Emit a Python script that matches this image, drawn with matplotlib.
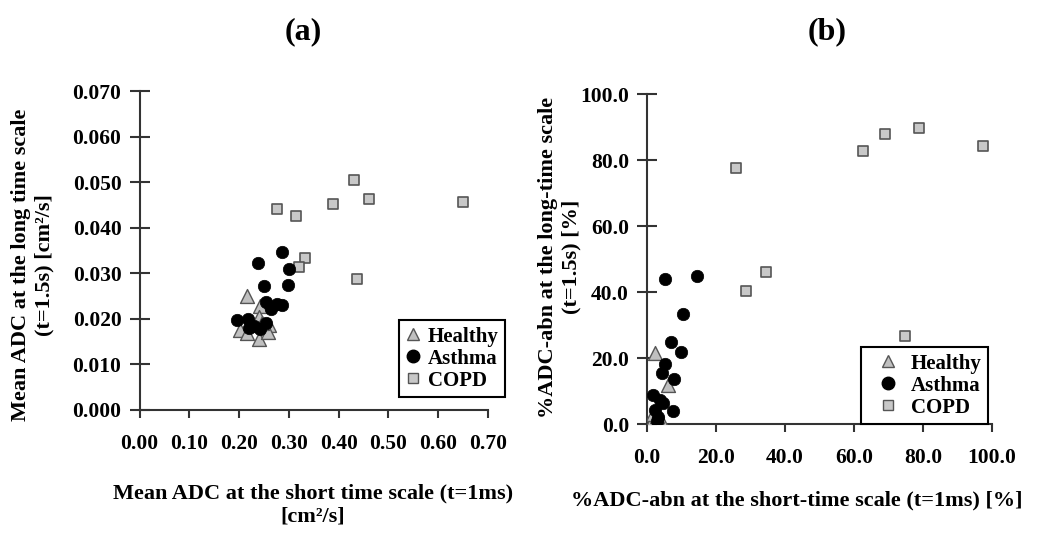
import numpy as np
import matplotlib.pyplot as plt
from matplotlib.lines import Line2D

plt.rcParams['font.family'] = ['Liberation Serif', 'DejaVu Serif']
plt.rcParams['font.weight'] = 'bold'

# panel (a): mean ADC, short (x) vs long (y) time scale [cm2/s]
healthy_a_x = [0.215, 0.242, 0.240, 0.261, 0.202, 0.215, 0.239, 0.259, 0.245]
healthy_a_y = [0.0250, 0.0229, 0.0205, 0.0186, 0.0175, 0.0168, 0.0156, 0.0172, 0.0190]
asthma_a_x = [0.238, 0.286, 0.301, 0.250, 0.298, 0.254, 0.265, 0.276, 0.286,
              0.195, 0.217, 0.220, 0.241, 0.253, 0.230]
asthma_a_y = [0.0323, 0.0346, 0.0309, 0.0273, 0.0274, 0.0238, 0.0221, 0.0232, 0.0231,
              0.0197, 0.0199, 0.0179, 0.0178, 0.0190, 0.0185]
copd_a_x = [0.276, 0.314, 0.389, 0.430, 0.461, 0.332, 0.320, 0.436, 0.650]
copd_a_y = [0.0440, 0.0425, 0.0451, 0.0504, 0.0463, 0.0333, 0.0314, 0.0287, 0.0456]

# panel (b): %ADC-abn, short (x) vs long (y) time scale [%]
healthy_b_x = [2.3, 6.0, 2.2, 1.5, 3.0, 4.0, 2.8, 3.5, 1.8]
healthy_b_y = [21.6, 11.8, 1.5, 0.8, 0.5, 1.2, 2.5, 0.4, 3.0]
asthma_b_x = [5.2, 14.6, 10.5, 6.9, 9.9, 5.2, 4.2, 7.8, 1.8, 3.8, 4.7, 7.6, 2.3, 3.3, 3.0]
asthma_b_y = [43.9, 44.8, 33.2, 24.9, 21.8, 18.1, 15.4, 13.6, 8.8, 7.3, 6.3, 3.9, 4.2, 2.2, 1.0]
copd_b_x = [25.8, 62.5, 69.0, 78.8, 97.3, 34.4, 28.7, 74.8, 3.5]
copd_b_y = [77.5, 82.7, 87.8, 89.7, 84.4, 46.2, 40.3, 26.7, 0.6]

fig = plt.figure(figsize=(10.5, 5.37), dpi=100)
axa = fig.add_axes([0.1329, 0.2365, 0.3319, 0.5940])
axb = fig.add_axes([0.6162, 0.2104, 0.3286, 0.6145])

tri_style = dict(marker='^', s=100, facecolor='#c0c0c0', edgecolor='#555555', linewidths=1.0, zorder=3)
dot_style = dict(marker='o', s=80, facecolor='black', edgecolor='black', linewidths=0.5, zorder=4)
sq_style = dict(marker='s', s=55, facecolor='#c8c8c8', edgecolor='#555555', linewidths=1.2, zorder=3)

for ax, hx, hy, ax_, ay_, cx, cy in [(axa, healthy_a_x, healthy_a_y, asthma_a_x, asthma_a_y, copd_a_x, copd_a_y),
                                      (axb, healthy_b_x, healthy_b_y, asthma_b_x, asthma_b_y, copd_b_x, copd_b_y)]:
    ax.scatter(cx, cy, **sq_style)
    ax.scatter(hx, hy, **tri_style)
    ax.scatter(ax_, ay_, **dot_style)
    for s in ['top', 'right']:
        ax.spines[s].set_visible(False)
    for s in ['left', 'bottom']:
        ax.spines[s].set_color('#333333')
        ax.spines[s].set_linewidth(1.5)
    ax.tick_params(axis='x', direction='out', length=6, width=1.5, color='#333333',
                   labelsize=15.5, pad=11)
    ax.tick_params(axis='y', direction='inout', length=14, width=1.5, color='#333333',
                   labelsize=15.5, pad=6)

axa.set_xlim(0, 0.70)
axa.set_ylim(0, 0.070)
axa.set_xticks(np.arange(0, 0.71, 0.1))
axa.set_yticks(np.arange(0, 0.071, 0.01))
axa.set_xticklabels(['%.2f' % v for v in np.arange(0, 0.71, 0.1)], fontweight='bold')
axa.set_yticklabels(['%.3f' % v for v in np.arange(0, 0.071, 0.01)], fontweight='bold')

axb.set_xlim(0, 100)
axb.set_ylim(0, 100)
axb.set_xticks(np.arange(0, 101, 20))
axb.set_yticks(np.arange(0, 101, 20))
axb.set_xticklabels(['%.1f' % v for v in np.arange(0, 101, 20)], fontweight='bold')
axb.set_yticklabels(['%.1f' % v for v in np.arange(0, 101, 20)], fontweight='bold')

handles = [Line2D([], [], linestyle='none', marker='^', markersize=9, markerfacecolor='#c0c0c0',
                  markeredgecolor='#555555', label='Healthy'),
           Line2D([], [], linestyle='none', marker='o', markersize=9, markerfacecolor='black',
                  markeredgecolor='black', label='Asthma'),
           Line2D([], [], linestyle='none', marker='s', markersize=7, markerfacecolor='#c8c8c8',
                  markeredgecolor='#555555', label='COPD')]

leg_kw = dict(handles=handles, fancybox=False, edgecolor='black', framealpha=1,
              prop={'weight': 'bold', 'size': 15}, labelspacing=0.1, borderaxespad=0, borderpad=0.3)
la = axa.legend(loc='lower right', bbox_to_anchor=(505 / 1050, 1 - 397 / 537),
                bbox_transform=fig.transFigure, handlelength=0.8, handletextpad=0.3, **leg_kw)
la.get_frame().set_linewidth(1.5)
lb = axb.legend(loc='lower right', bbox_to_anchor=(988 / 1050, 1 - 424 / 537),
                bbox_transform=fig.transFigure, handlelength=2.0, handletextpad=0.1, **leg_kw)
lb.get_frame().set_linewidth(1.5)

fig.text(303 / 1050, 1 - 32 / 537, '(a)', ha='center', va='center', fontsize=23, fontweight='bold')
fig.text(827 / 1050, 1 - 32 / 537, '(b)', ha='center', va='center', fontsize=23, fontweight='bold')

fig.text(313 / 1050, 1 - 505 / 537, 'Mean ADC at the short time scale (t=1ms)\n[cm\u00b2/s]',
         ha='center', va='center', fontsize=16, fontweight='bold', linespacing=1.25)
fig.text(33 / 1050, 1 - 265 / 537, 'Mean ADC at the long time scale\n(t=1.5s) [cm\u00b2/s]',
         ha='center', va='center', rotation=90, fontsize=16, fontweight='bold', linespacing=1.25)
fig.text(797 / 1050, 1 - 500 / 537, '%ADC-abn at the short-time scale (t=1ms) [%]',
         ha='center', va='center', fontsize=16, fontweight='bold')
fig.text(560 / 1050, 1 - 257 / 537, '%ADC-abn at the long-time scale\n(t=1.5s) [%]',
         ha='center', va='center', rotation=90, fontsize=16, fontweight='bold', linespacing=1.25)

fig.savefig('out.png', dpi=100)
